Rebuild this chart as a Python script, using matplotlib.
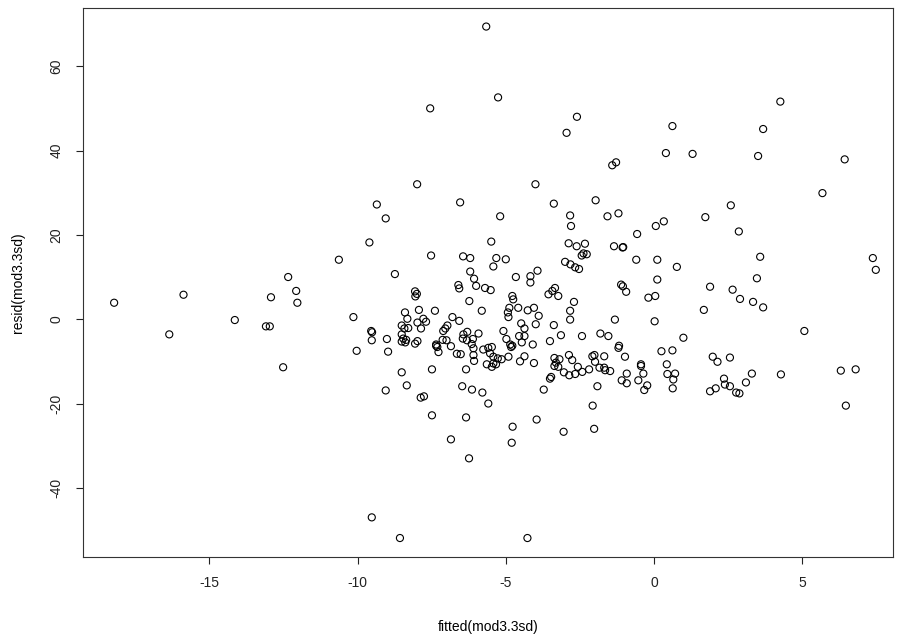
import matplotlib
matplotlib.use("Agg")
import matplotlib.pyplot as plt

# fitted values and residuals
fitted = [
    -18.21, -15.87, -16.35, -14.14, -13.09, -12.96, -12.92, -12.34, -12.07, -12.03, -12.51,
    -5.66, -5.26, -7.55, -7.99, -4.0, -2.6, -2.95, -1.41, -1.28, 0.62, 0.4, 1.3, 3.51, 3.68,
    4.26, 6.43, 5.68,
    -9.35, -9.05, -6.54, -9.6, -10.63, -7.52, -6.44, -6.2, -5.49, -5.32, -5.42, -6.2, -6.07,
    -8.74, -5.19,
    -3.38, -1.97, -2.83, -1.57, -1.2, -2.8, -0.57, 0.06, 0.33, -2.88, -2.61, -2.33, -2.38,
    -2.27, -2.44, -1.35, -1.04, -1.06, -5.0, -3.0, -2.82, -2.66, -2.53, -0.6, 0.11, 0.77,
    -4.66, -4.17, -3.93, 0.11,
    2.59, 1.73, 2.86, 3.58, 7.38, 7.48, 3.47,
    -10.14, -10.03, -9.54, -9.51, -9.52, -9.01, -8.97, -8.06, -8.0, -8.05, -8.4, -8.32,
    -7.93, -7.39, -8.51, -8.42, -8.29, -7.98, -7.78, -7.69, -7.86, -8.51, -8.46, -8.36,
    -8.51, -8.39, -8.06, -7.98, -6.6, -6.57, -6.0, -5.7, -5.51, -6.23, -5.81, -6.8, -6.57,
    -6.97, -7.04, -7.11, -7.35, -7.31, -7.35, -7.27, -7.13, -7.0, -6.85, -6.65, -6.52,
    -6.43, -6.3, -6.45, -6.31, -6.11, -6.15, -6.09, -5.92, -5.76, -5.59, -5.47, -5.53,
    -5.42, -6.09, -6.07,
    -4.17, -3.56, -3.43, -3.34, -3.23, -4.78, -4.75, -2.7, -1.11, -1.05, -0.94, -0.19, 0.04,
    -4.88, -4.93, -4.91, -4.58, -4.26, -4.05, -3.89, -2.83, -2.83, -1.32, 0.02, -5.08,
    -4.98, -4.48, -4.37, -3.99, -3.38, -4.55, -4.37, -4.46, -4.85, -4.78, -4.82, -4.09,
    -3.51, -3.14, -2.43, -1.81, -1.54, -1.18, -1.2, 0.99, 0.25, 0.62, -5.27, -5.14, -4.91,
    -4.37, -4.52, -3.36, -3.19, -3.31, -2.87, -2.76, -2.08, -2.01, -1.99, -1.68, -0.98,
    -4.05, -0.44, 0.43,
    1.89, 2.65, 2.9, 3.34, 3.68, 1.68, 5.07, 1.98, 2.14, 2.56,
    -8.51, -8.34, -9.05, -7.87, -7.76, -7.49, -7.49, -6.85, -6.34, -6.47, -6.14, -5.79,
    -5.59, -6.34, -5.64, -5.47, -5.42, -5.33,
    -3.36, -3.23, -3.51, -3.47, -3.72, -3.04, -2.86, -2.66, -2.57, -2.42, -2.19, -1.84,
    -1.68, -1.65, -1.48, -1.91, -2.07, -2.02, -3.05, -3.96, -4.77, -4.8, -1.09, -0.92,
    -0.92, -0.53, -0.44, -0.36, -0.23, -0.33, 0.45, 0.71, 0.65, 0.63,
    2.36, 2.39, 2.56, 1.89, 2.08, 2.77, 2.88, 3.1, 3.3, 4.28, 6.3, 6.8, 6.47,
    -9.52, -8.57, -4.27, -6.24,
]
resid = [
    3.9, 5.8, -3.6, -0.2, -1.7, -1.7, 5.2, 10.0, 6.7, 3.9, -11.4,
    69.4, 52.6, 50.0, 32.0, 32.0, 48.0, 44.2, 36.5, 37.2, 45.8, 39.4, 39.2, 38.7, 45.1,
    51.6, 37.9, 29.9,
    27.2, 23.9, 27.7, 18.2, 14.1, 15.1, 14.9, 14.5, 18.4, 14.5, 12.5, 11.3, 9.6,
    10.7, 24.4,
    27.4, 28.2, 24.6, 24.4, 25.1, 22.1, 20.2, 22.1, 23.2, 18.0, 17.3, 17.9, 15.6,
    15.4, 15.1, 17.3, 17.1, 17.0, 14.2, 13.6, 13.0, 12.3, 11.9, 14.1, 14.1, 12.4,
    10.0, 10.2, 11.5, 9.4,
    27.0, 24.2, 20.8, 14.8, 14.5, 11.7, 9.7,
    0.5, -7.5, -2.8, -3.1, -5.0, -4.7, -7.7, 6.6, 6.0, 5.4, 1.6, 0.1,
    2.2, 2.0, -1.5, -2.2, -2.1, -0.8, 0.1, -0.6, -2.2, -3.6, -4.6, -4.9,
    -5.3, -5.5, -5.8, -5.2, 8.1, 7.3, 7.9, 7.4, 6.9, 4.3, 2.0, 0.5, -0.4,
    -1.5, -2.2, -2.8, -6.0, -6.6, -6.3, -7.8, -4.9, -5.0, -6.4, -8.2, -8.3,
    -3.6, -3.0, -4.6, -5.0, -4.7, -5.9, -6.9, -3.4, -7.2, -6.8, -6.6, -8.1,
    -8.9, -8.5, -9.9,
    8.7, 5.9, 6.7, 7.4, 5.5, 5.5, 4.7, 4.1, 8.2, 7.8, 6.5, 5.1, 5.5,
    2.7, 1.6, 0.5, 2.7, 2.1, 2.7, 0.8, 2.0, -0.1, -0.1, -0.5, -2.8,
    -4.7, -1.0, -2.2, -1.2, -1.4, -4.0, -4.0, -5.5, -6.0, -6.3, -6.6, -6.0,
    -5.2, -3.8, -4.0, -3.4, -4.0, -6.3, -6.8, -4.4, -7.6, -7.4, -9.3, -9.5, -8.9,
    -8.8, -10.0, -9.2, -9.5, -10.3, -8.5, -9.7, -8.8, -8.5, -10.1, -8.8, -8.9,
    -10.4, -10.7, -10.7,
    7.7, 7.0, 4.8, 4.1, 2.8, 2.2, -2.8, -8.9, -10.1, -9.1,
    -12.6, -15.7, -16.9, -18.6, -18.3, -11.9, -22.8, -28.5, -11.9, -15.9, -16.7, -17.4,
    -20.0, -23.3, -10.7, -11.3, -10.5, -10.7,
    -11.1, -11.3, -14.1, -13.7, -16.7, -12.6, -13.3, -13.0, -11.3, -12.5, -11.9, -11.5,
    -11.5, -12.1, -12.3, -15.9, -20.5, -26.0, -26.7, -23.8, -25.5, -29.3, -14.5, -12.9,
    -15.2, -14.5, -11.1, -12.9, -15.7, -16.8, -13.0, -12.9, -14.3, -16.4,
    -14.1, -15.5, -15.9, -17.1, -16.4, -17.4, -17.6, -15.0, -12.9, -13.1, -12.2, -11.9, -20.5,
    -47.0, -51.9, -51.9, -33.0,
]

x_ticks = [-15, -10, -5, 0, 5]
y_ticks = [-40, -20, 0, 20, 40, 60]

plt.rcParams['font.family'] = ['Liberation Sans', 'DejaVu Sans']
plt.rcParams['axes.unicode_minus'] = False

fig = plt.figure(figsize=(9.01, 6.44), dpi=100)
ax = fig.add_axes([83 / 901, 87 / 644, 810 / 901, 549 / 644])

ax.scatter(fitted, resid, s=26, facecolors='none', edgecolors='black', linewidths=0.8)

ax.set_xlim(-19.26, 8.06)
ax.set_ylim(-56.4, 73.8)
ax.set_xticks(x_ticks)
ax.set_yticks(y_ticks)
ax.tick_params(direction='out', length=5, width=0.8, labelsize=10, pad=9, colors='#222222')
for lab in ax.get_yticklabels():
    lab.set_rotation(90)
    lab.set_va('center')
for sp in ax.spines.values():
    sp.set_linewidth(0.8)
    sp.set_color('#333333')

ax.set_xlabel('fitted(mod3.3sd)', fontsize=10, labelpad=21)
ax.set_ylabel('resid(mod3.3sd)', fontsize=10, labelpad=18)

fig.savefig('out.png', dpi=100)
